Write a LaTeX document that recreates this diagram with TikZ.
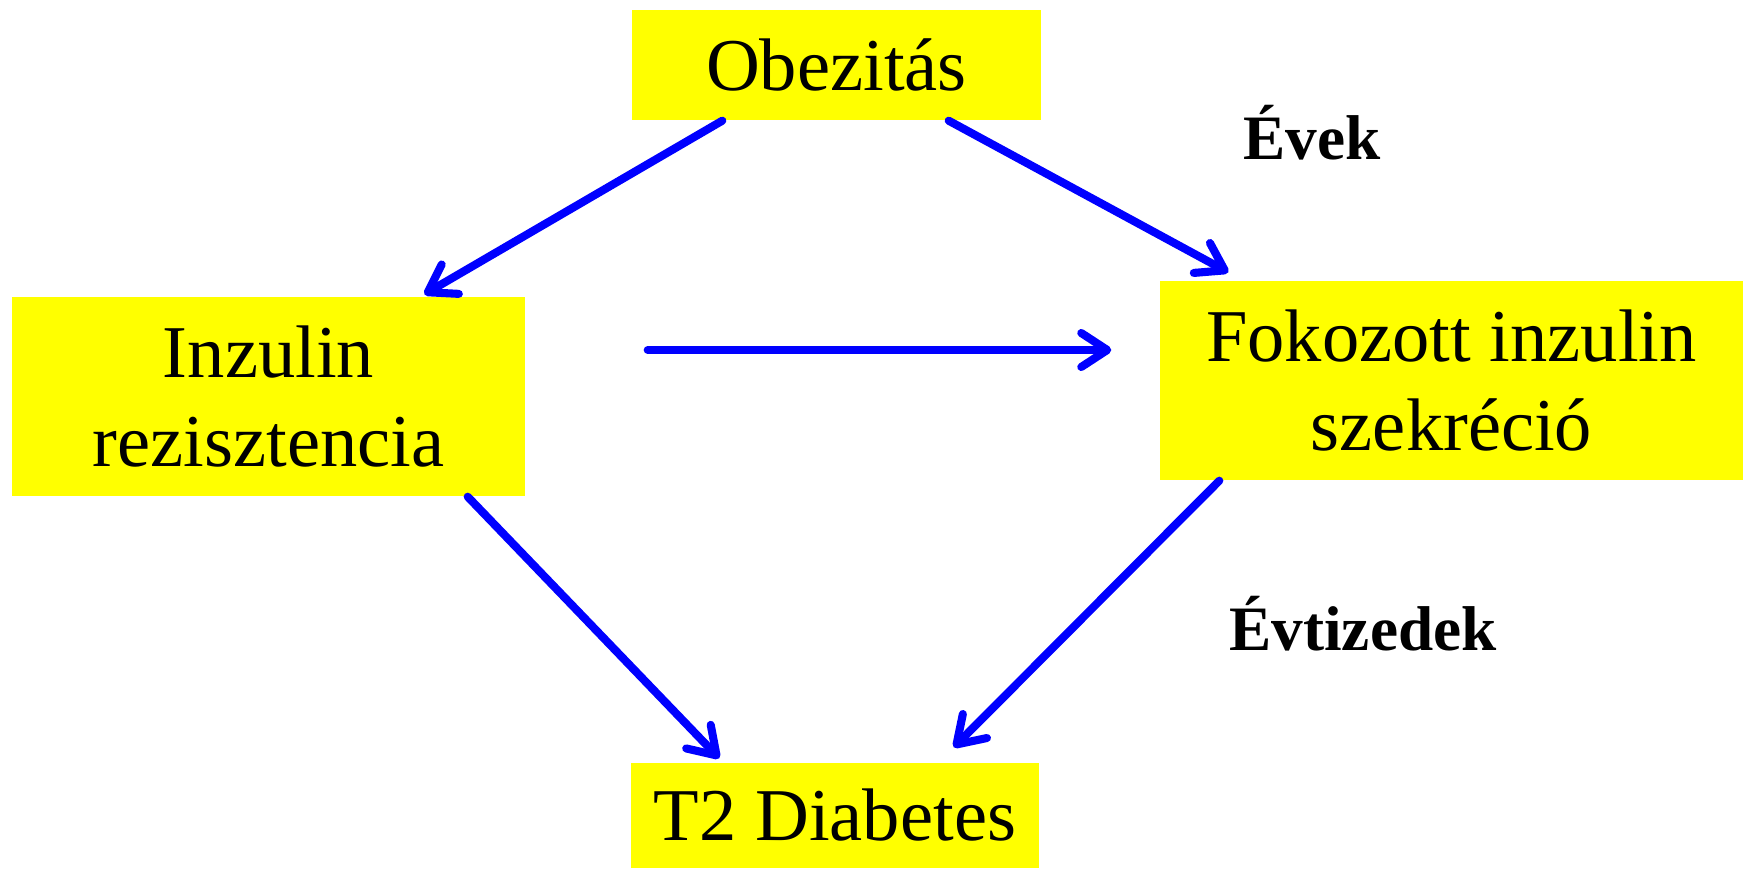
\documentclass[tikz,border=0pt]{standalone}
\usepackage{fontspec}
\setmainfont{Liberation Serif}
\usetikzlibrary{arrows.meta}
\definecolor{boxyellow}{RGB}{255,255,0}
\definecolor{arrowblue}{RGB}{0,0,255}
\begin{document}
\begin{tikzpicture}[
    box/.style = {fill=boxyellow, inner sep=0pt, align=center, font=\fontsize{21.2}{25.5}\selectfont},
    flow/.style = {arrowblue, line width=2.3pt, line cap=round, -{Straight Barb[round, length=2.6mm, width=3.4mm]}},
    tag/.style = {font=\fontsize{18}{21}\selectfont\bfseries}
  ]
                \useasboundingbox (0,0) rectangle (17.43,8.68);
                \node[box, minimum width=4.09cm, minimum height=1.10cm] (ob) at (8.365,8.03) {Obezitás};
                \node[box, minimum width=5.13cm, minimum height=1.99cm] (ir) at (2.685,4.715) {Inzulin\\rezisztencia};
                \node[box, minimum width=5.83cm, minimum height=1.99cm] (fi) at (14.515,4.875) {Fokozott inzulin\\szekréció};
                \node[box, minimum width=4.08cm, minimum height=1.05cm] (t2) at (8.35,0.525) {T2 Diabetes};

                \node[tag] (evek) at (13.12,7.35) {Évek};
                \node[tag] (evtized) at (13.63,2.44) {Évtizedek};

                \draw[flow] ([xshift=0.91cm]ob.south west) -- ([xshift=4.13cm,yshift=0.02cm]ir.north west);
                \draw[flow] ([xshift=-0.93cm]ob.south east) -- ([xshift=0.69cm,yshift=0.08cm]fi.north west);
                \draw[flow] ([xshift=1.22cm,yshift=0.465cm]ir.east) -- ([xshift=-0.48cm,yshift=0.305cm]fi.west);
                \draw[flow] ([xshift=-0.58cm]ir.south east) -- ([xshift=0.89cm,yshift=0.04cm]t2.north west);
                \draw[flow] ([xshift=0.60cm]fi.south west) -- ([xshift=-0.86cm,yshift=0.15cm]t2.north east);
\end{tikzpicture}
\end{document}
